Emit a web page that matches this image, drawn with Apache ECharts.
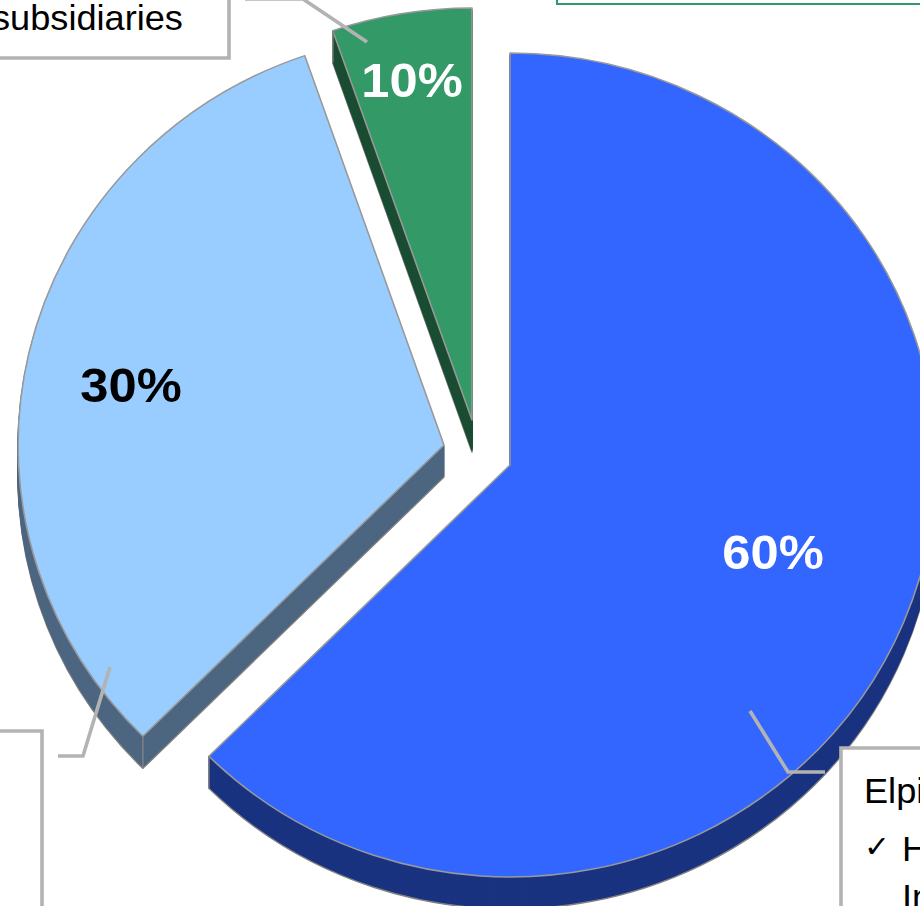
<!DOCTYPE html>
<html>
<head>
<meta charset="utf-8">
<style>html,body{margin:0;padding:0;background:#fff;overflow:hidden}
#c{width:890px;height:906px;transform:scaleX(1.03371);transform-origin:0 0}</style>
<script src="https://cdn.jsdelivr.net/npm/echarts@6/dist/echarts.min.js"></script>
</head>
<body>
<div id="c"></div>
<script>
// The printed labels read 60/30/10, but the reference draws wedges of about 225, 116 and 19 degrees.
const sliceNames = ['Elpi', 'Other', 'Subsidiaries'];
const printedLabels = ['60%', '30%', '10%'];
const drawnShares = [62.5, 32.2, 5.3];
const topColors = ['#3366FF', '#99CCFF', '#339966'];
const wallColors = ['#1A3380', '#4D6680', '#1A4D33'];
const labelColors = ['#FFFFFF', '#000000', '#FFFFFF'];
const SX = 920 / 890; // the reference pie is slightly wider than tall
const X = v => v / SX;
const centers = [[510, 465], [444, 445], [472, 420]];
const labelSpots = [[773, 552], [131, 385], [412, 80]];
const RADIUS = 412, DEPTH = 32, EDGE = '#999999', WALL_EDGE = '#808080', LEADER = '#B3B3B3';
const FONT = '"Liberation Sans", Arial, sans-serif';

function wedge(i, start, dy, top) {
  const color = top ? topColors[i] : wallColors[i];
  const border = top ? EDGE : (dy === DEPTH ? WALL_EDGE : wallColors[i]);
  return {
    type: 'pie', silent: true, animation: false, clockwise: true,
    startAngle: start, radius: [0, RADIUS],
    center: [X(centers[i][0]), centers[i][1] + dy],
    avoidLabelOverlap: false, labelLine: { show: false },
    emphasis: { disabled: true },
    label: { show: false },
    labelLayout: top ? { x: X(labelSpots[i][0]), y: labelSpots[i][1], align: 'center', verticalAlign: 'middle' } : undefined,
    data: [
      { name: sliceNames[i], value: drawnShares[i],
        itemStyle: { color: color, borderColor: border, borderWidth: 1.5 },
        label: top ? { show: true, position: 'inside', formatter: printedLabels[i], color: labelColors[i],
                       fontFamily: FONT, fontWeight: 'bold', fontSize: 49 } : { show: false } },
      { name: 'rest', value: 100 - drawnShares[i],
        itemStyle: { color: 'rgba(0,0,0,0)', borderWidth: 0 }, label: { show: false } }
    ]
  };
}

const series = [];
const tipLines = [];
let used = 0;
drawnShares.forEach((share, i) => {
  const start = ((90 - used * 3.6) % 360 + 360) % 360;
  for (let dy = DEPTH; dy > 0; dy -= 2) series.push(wedge(i, start, dy, false));
  series.push(wedge(i, start, 0, true));
  // vertical corner edge of each wall, at the wedge boundary that faces the viewer
  const u = i === 0 ? used + share : used;
  const a = u * 3.6 * Math.PI / 180;
  const x = X(centers[i][0]) + RADIUS * Math.sin(a), y = centers[i][1] - RADIUS * Math.cos(a);
  tipLines.push({ type: 'line', z: 50, shape: { x1: x, y1: y, x2: x, y2: y + DEPTH }, style: { stroke: WALL_EDGE, lineWidth: 1.5 } });
  used += share;
});

function box(x, y, w, h, stroke, lw) {
  return { type: 'rect', z: 60, shape: { x: X(x), y, width: X(w), height: h }, style: { fill: '#fff', stroke: stroke, lineWidth: lw } };
}
function leader(points) {
  return { type: 'polyline', z: 70, shape: { points: points.map(p => [X(p[0]), p[1]]) }, style: { fill: 'none', stroke: LEADER, lineWidth: 3.5 } };
}
function text(t, x, y, font) {
  return { type: 'text', z: 80, x: X(x), y, style: { text: t, font: font || ('35px ' + FONT), fill: '#000' } };
}

const graphic = [
  ...tipLines,
  box(-40, -30, 269, 88, LEADER, 3.5),
  box(-40, 731, 82, 220, LEADER, 3.5),
  box(841, 748, 140, 220, LEADER, 3.5),
  box(557, -30, 420, 34, '#339966', 2),
  leader([[245, -1], [303, -1], [367, 42]]),
  leader([[58, 756], [83, 756], [110, 667]]),
  leader([[750, 711], [788, 772], [825, 772]]),
  text('subsidiaries', -8, 1),
  text('Elpi', 864, 774),
  text('\u2713', 864, 832, '30px "DejaVu Sans"'),
  text('H', 902, 832),
  text('In', 902, 880)
];

const chart = echarts.init(document.getElementById('c'), null, { renderer: 'svg' });
chart.setOption({ backgroundColor: '#fff', animation: false, series, graphic });
</script>
</body>
</html>
